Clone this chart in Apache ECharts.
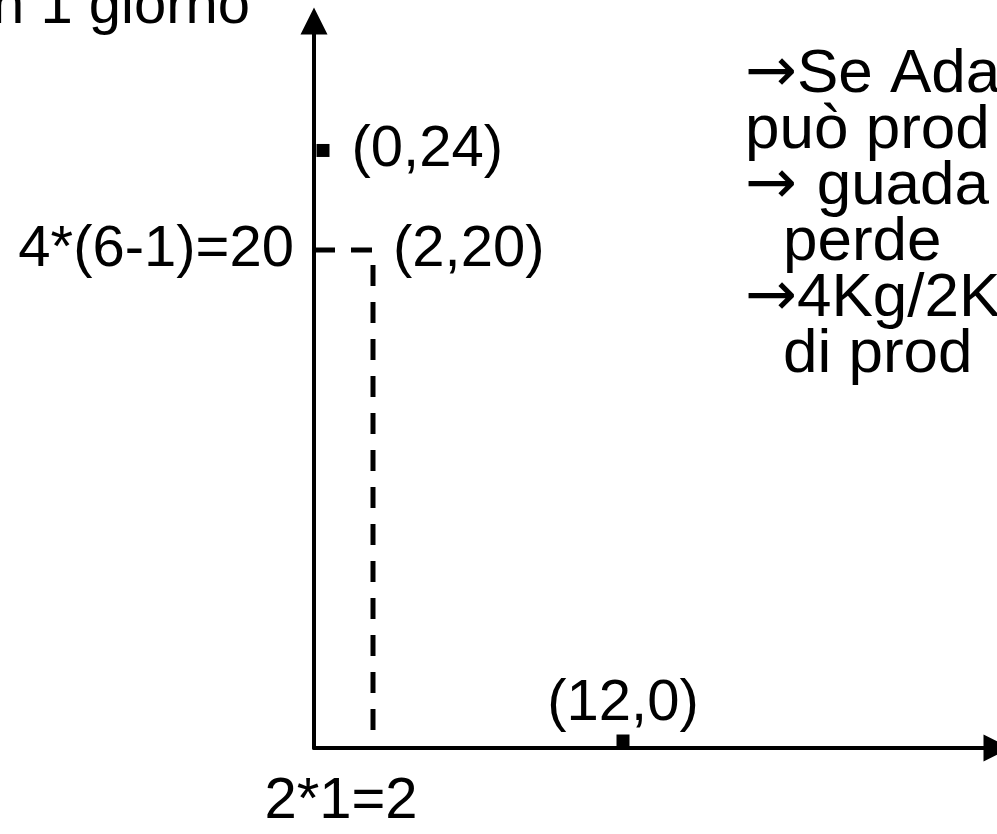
<!DOCTYPE html>
<html>
<head>
<meta charset="utf-8">
<script src="https://cdn.jsdelivr.net/npm/echarts@6/dist/echarts.min.js"></script>
<style>
  html, body { margin: 0; padding: 0; background: #fff; }
  #main { width: 997px; height: 834px; }
</style>
</head>
<body>
<div id="main"></div>
<script>
const pointX = [0, 12]
const pointY = [24, 0]
const pointLabels = ['(0,24)', '(12,0)']
// tratteggio da (asse, 20) a (2, 20) e giù fino a (2, 0)
const guideX = [2, 2]
const guideY = [20, 0]
const cornerLabel = '(2,20)'
const xTickValues = [2]
const xTickLabels = ['2*1=2']
const yTickValues = [20]
const yTickLabels = ['4*(6-1)=20']
const lineArrows = ['→', '', '→ ', '', '→', '']
const lineTexts = ['Se Ada', 'può prod', 'guada', 'perde', '4Kg/2K', 'di prod']
const lineIndent = [0, 0, 0, 1, 0, 1]

const xMin = -0.36
const xMax = 26.96
const yMin = 0
const yMax = 29.2

const font = 'Liberation Sans'
const fs = 58

const main = document.getElementById('main')
const myChart = echarts.init(main, null, { renderer: 'canvas' })

const axisLine = {
  show: true,
  onZero: false,
  symbol: ['none', 'triangle'],
  symbolSize: [27, 27],
  lineStyle: { color: '#000', width: 4 }
}

const labelStyle = {
  show: true,
  color: '#000',
  fontFamily: font,
  fontSize: fs
}

myChart.setOption({
  backgroundColor: '#fff',
  animation: false,
  grid: { left: 314, right: 0, top: 21, bottom: 86 },
  xAxis: {
    type: 'value',
    min: xMin,
    max: xMax,
    axisLine: axisLine,
    axisTick: { show: false },
    splitLine: { show: false },
    axisLabel: {
      customValues: xTickValues,
      formatter: (v) => xTickLabels[xTickValues.indexOf(v)] || '',
      color: '#000',
      fontFamily: font,
      fontSize: fs,
      margin: 25,
      padding: [0, 64, 0, 0]
    }
  },
  yAxis: {
    type: 'value',
    min: yMin,
    max: yMax,
    axisLine: axisLine,
    axisTick: { show: false },
    splitLine: { show: false },
    axisLabel: {
      customValues: yTickValues,
      formatter: (v) => yTickLabels[yTickValues.indexOf(v)] || '',
      color: '#000',
      fontFamily: font,
      fontSize: fs,
      margin: 20
    }
  },
  graphic: lineTexts.map((t, i) => ({
    type: 'text',
    x: 745 + lineIndent[i] * 38,
    y: 75 + i * 56,
    style: {
      text: (lineArrows[i] ? '{a|' + lineArrows[i] + '}' : '') + '{t|' + t + '}',
      fill: '#000',
      verticalAlign: 'middle',
      rich: {
        a: { fontFamily: 'DejaVu Sans', fontSize: 62, fill: '#000' },
        t: { fontFamily: font, fontSize: 62, fill: '#000' }
      }
    }
  })).concat([{
    type: 'text',
    x: 250,
    y: 7,
    style: {
      text: 'n 1 giorno',
      fill: '#000',
      fontFamily: font,
      fontSize: fs,
      align: 'right',
      verticalAlign: 'middle'
    }
  }]),
  series: [
    {
      type: 'line',
      data: [[xMin, guideY[0]]].concat(guideX.map((x, i) => [x, guideY[i]])),
      symbol: 'none',
      lineStyle: { color: '#000', width: 5, type: [21, 16] },
      silent: true
    },
    {
      type: 'scatter',
      data: [[guideX[0], guideY[0]]],
      symbolSize: 0,
      itemStyle: { opacity: 1 },
      label: Object.assign({}, labelStyle, {
        formatter: cornerLabel,
        position: 'right',
        distance: 20
      })
    },
    {
      type: 'scatter',
      symbol: 'rect',
      symbolSize: 13,
      itemStyle: { color: '#000', opacity: 1 },
      data: [
        {
          value: [pointX[0], pointY[0]],
          label: Object.assign({}, labelStyle, { position: 'right', distance: 22 })
        },
        {
          value: [pointX[1], pointY[1]],
          symbolOffset: [0, -7],
          label: Object.assign({}, labelStyle, { position: 'top', distance: 2 })
        }
      ],
      label: Object.assign({}, labelStyle, {
        formatter: (p) => pointLabels[p.dataIndex]
      })
    }
  ]
})
</script>
</body>
</html>
